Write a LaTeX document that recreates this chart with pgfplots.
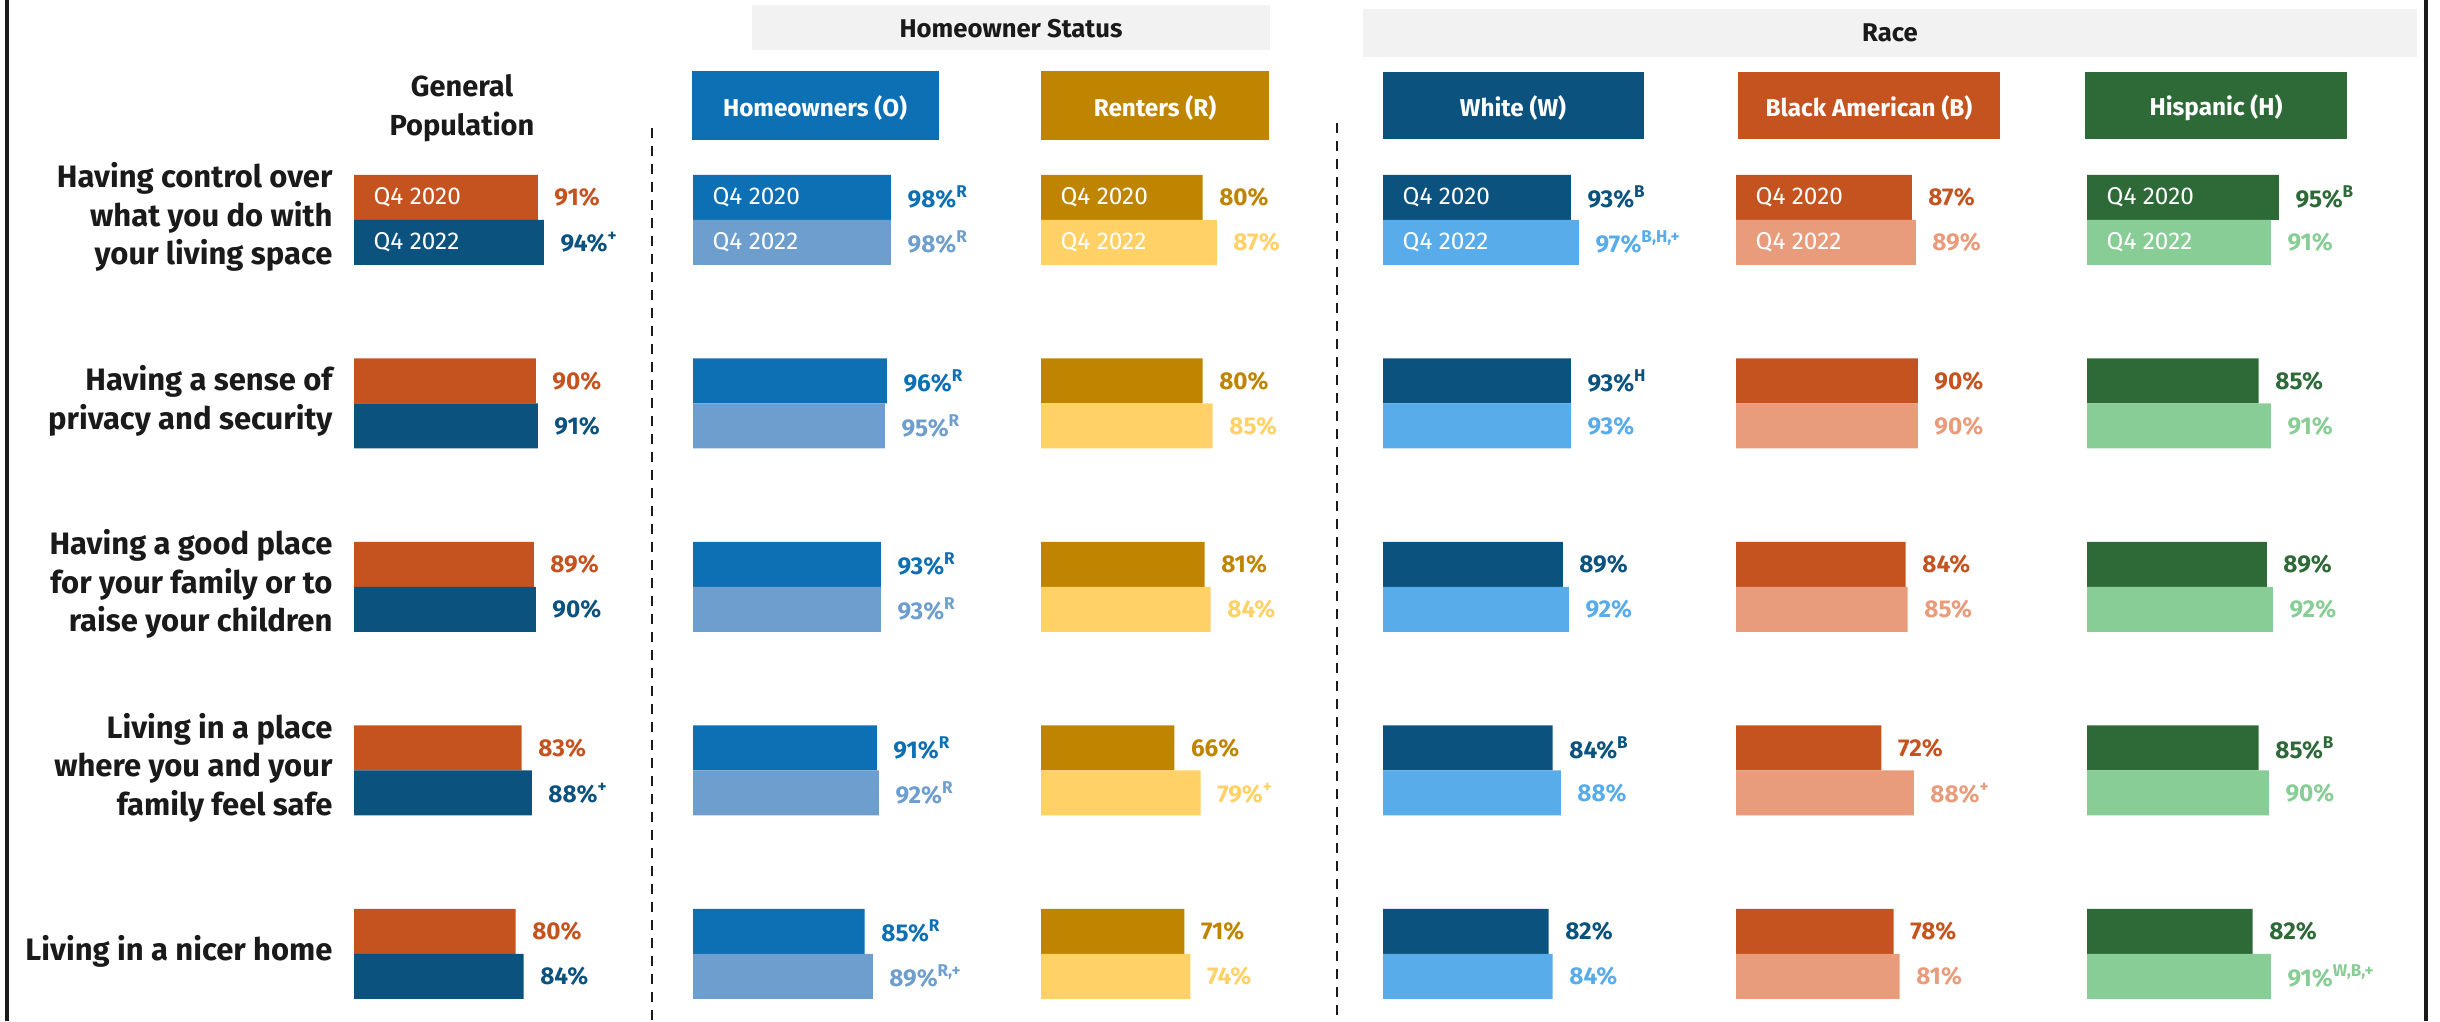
\documentclass[border=0pt]{standalone}
\usepackage{pgfplots}
\pgfplotsset{compat=1.18}
\usepackage{fontspec}
\setmainfont{Fira Sans}

\definecolor{orng}{HTML}{C5531F}
\definecolor{navy}{HTML}{0B527E}
\definecolor{ownA}{HTML}{0E70B4}
\definecolor{ownB}{HTML}{6E9ECE}
\definecolor{rentA}{HTML}{BF8500}
\definecolor{rentB}{HTML}{FFD166}
\definecolor{whtB}{HTML}{58ACE9}
\definecolor{blkB}{HTML}{E89C7B}
\definecolor{hisA}{HTML}{2E6A37}
\definecolor{hisB}{HTML}{89CD96}
\definecolor{band}{HTML}{F2F2F2}
\definecolor{ink}{HTML}{1A1A1A}

\newcommand{\valfont}{\bfseries\fontsize{7.3}{8}\selectfont}
\newcommand{\qfont}{\fontsize{7.3}{8}\selectfont}
\newcommand{\headfont}{\bfseries\fontsize{7.3}{8}\selectfont}

\pgfplotsset{
  panel/.style={
    xbar, x=0.606pt, y=55.05pt,
    xmin=0, xmax=100, ymin=0.7, ymax=5.3,
    bar width=13.5pt, clip=false, anchor=south west,
    nodes near coords={\pgfplotspointmeta},
    point meta=explicit symbolic,
    every node near coord/.append style={anchor=west, inner sep=0pt, xshift=4.8pt, font=\valfont},
  },
  y20/.style={fill=#1, draw=none, bar shift=6.75pt,
    every node near coord/.append style={text=#1}},
  y22/.style={fill=#1, draw=none, bar shift=-6.75pt,
    every node near coord/.append style={text=#1}},
}

% two labels inside the first row of bars
\newcommand{\qlabels}{%
  \node[anchor=west, inner sep=0pt, text=white, font=\qfont] at ([xshift=5.7pt, yshift=6.75pt]axis cs:0,5) {Q4 2020};
  \node[anchor=west, inner sep=0pt, text=white, font=\qfont] at ([xshift=5.7pt, yshift=-6.75pt]axis cs:0,5) {Q4 2022};
}

\begin{document}
\begin{tikzpicture}

\begin{scope}[x=0.3pt, y=-0.3pt]
  \path[use as bounding box] (0,0) rectangle (2440,1021);
  % frame
  \draw[line width=1.2pt, ink] (7,0) -- (7,1021);
  \draw[line width=1.2pt, ink] (2426,0) -- (2426,1021);
  % group bands
  \fill[band] (752,5) rectangle (1270,50);
  \node[font=\bfseries\fontsize{7.7}{9}\selectfont, text=ink] at (1011,29) {Homeowner Status};
  \fill[band] (1363,9) rectangle (2417,57);
  \node[font=\bfseries\fontsize{7.7}{9}\selectfont, text=ink] at (1890,33) {Race};
  % column headers
  \node[align=center, inner sep=0pt, font=\bfseries\fontsize{8.7}{11.55}\selectfont, text=ink] at (462,108) {General\\Population};
  \fill[ownA] (692,71) rectangle (939,140);
  \node[text=white, font=\headfont] at (815,108) {Homeowners (O)};
  \fill[rentA] (1041,71) rectangle (1269,140);
  \node[text=white, font=\headfont] at (1155,108) {Renters (R)};
  \fill[navy] (1383,72) rectangle (1644,139);
  \node[text=white, font=\headfont] at (1513,108) {White (W)};
  \fill[orng] (1738,72) rectangle (2000,139);
  \node[text=white, font=\headfont] at (1869,108) {Black American (B)};
  \fill[hisA] (2085,72) rectangle (2347,139);
  \node[text=white, font=\headfont] at (2216,108) {Hispanic (H)};
  % separators
  \draw[line width=0.6pt, ink, dash pattern=on 3pt off 2.4pt] (652,128) -- (652,1021);
  \draw[line width=0.6pt, ink, dash pattern=on 3pt off 2.4pt] (1337,123) -- (1337,1021);
\end{scope}

% General population
\begin{axis}[panel, at={(354*0.3pt,-1009*0.3pt)},
  hide x axis, axis y line*=left, y axis line style={draw=none},
  ytick={1,2,3,4,5}, ytick style={draw=none},
  yticklabels={{Living in a nicer home},
    {Living in a place\\where you and your\\family feel safe},
    {Having a good place\\for your family or to\\raise your children},
    {Having a sense of\\privacy and security},
    {Having control over\\what you do with\\your living space}},
  yticklabel style={align=right, inner sep=0pt, text=ink, yshift=0.8pt,
    font=\bfseries\fontsize{9.3}{11.55}\selectfont},
  yticklabel shift=2pt]
\addplot[y20=orng] coordinates {(91,5)[91\%] (90,4)[90\%] (89,3)[89\%] (83,2)[83\%] (80,1)[80\%]};
\addplot[y22=navy] coordinates {(94,5)[{94\%\textsuperscript{+}}] (91,4)[91\%] (90,3)[90\%] (88,2)[{88\%\textsuperscript{+}}] (84,1)[84\%]};
\qlabels
\end{axis}

% Homeowners
\begin{axis}[panel, hide axis, at={(693*0.3pt,-1009*0.3pt)}]
\addplot[y20=ownA] coordinates {(98,5)[{98\%\textsuperscript{R}}] (96,4)[{96\%\textsuperscript{R}}] (93,3)[{93\%\textsuperscript{R}}] (91,2)[{91\%\textsuperscript{R}}] (85,1)[{85\%\textsuperscript{R}}]};
\addplot[y22=ownB] coordinates {(98,5)[{98\%\textsuperscript{R}}] (95,4)[{95\%\textsuperscript{R}}] (93,3)[{93\%\textsuperscript{R}}] (92,2)[{92\%\textsuperscript{R}}] (89,1)[{89\%\textsuperscript{R,+}}]};
\qlabels
\end{axis}

% Renters
\begin{axis}[panel, hide axis, at={(1041*0.3pt,-1009*0.3pt)}]
\addplot[y20=rentA] coordinates {(80,5)[80\%] (80,4)[80\%] (81,3)[81\%] (66,2)[66\%] (71,1)[71\%]};
\addplot[y22=rentB] coordinates {(87,5)[87\%] (85,4)[85\%] (84,3)[84\%] (79,2)[{79\%\textsuperscript{+}}] (74,1)[74\%]};
\qlabels
\end{axis}

% White
\begin{axis}[panel, hide axis, at={(1383*0.3pt,-1009*0.3pt)}]
\addplot[y20=navy] coordinates {(93,5)[{93\%\textsuperscript{B}}] (93,4)[{93\%\textsuperscript{H}}] (89,3)[89\%] (84,2)[{84\%\textsuperscript{B}}] (82,1)[82\%]};
\addplot[y22=whtB] coordinates {(97,5)[{97\%\textsuperscript{B,H,+}}] (93,4)[93\%] (92,3)[92\%] (88,2)[88\%] (84,1)[84\%]};
\qlabels
\end{axis}

% Black American
\begin{axis}[panel, hide axis, at={(1736*0.3pt,-1009*0.3pt)}]
\addplot[y20=orng] coordinates {(87,5)[87\%] (90,4)[90\%] (84,3)[84\%] (72,2)[72\%] (78,1)[78\%]};
\addplot[y22=blkB] coordinates {(89,5)[89\%] (90,4)[90\%] (85,3)[85\%] (88,2)[{88\%\textsuperscript{+}}] (81,1)[81\%]};
\qlabels
\end{axis}

% Hispanic
\begin{axis}[panel, hide axis, at={(2087*0.3pt,-1009*0.3pt)}]
\addplot[y20=hisA] coordinates {(95,5)[{95\%\textsuperscript{B}}] (85,4)[85\%] (89,3)[89\%] (85,2)[{85\%\textsuperscript{B}}] (82,1)[82\%]};
\addplot[y22=hisB] coordinates {(91,5)[91\%] (91,4)[91\%] (92,3)[92\%] (90,2)[90\%] (91,1)[{91\%\textsuperscript{W,B,+}}]};
\qlabels
\end{axis}

\end{tikzpicture}
\end{document}
